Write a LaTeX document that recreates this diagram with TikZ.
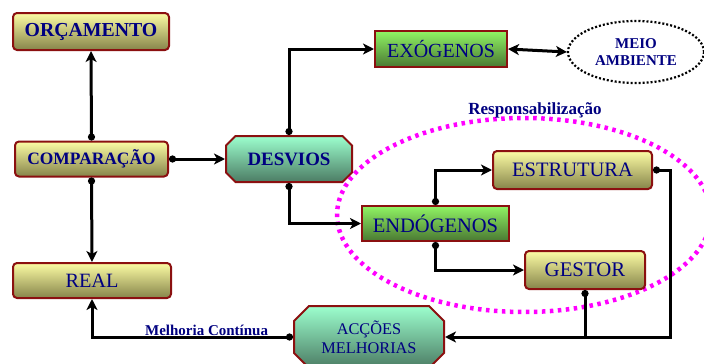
\documentclass[tikz,border=0pt]{standalone}
\usepackage{fontspec}
\setmainfont{Liberation Serif}
\newfontfamily\boxfont{Liberation Serif}
\usetikzlibrary{arrows.meta,shapes.misc,shapes.geometric}
\definecolor{navytxt}{HTML}{000080}
\definecolor{boxred}{HTML}{8B1010}
\definecolor{ytop}{HTML}{FCFCA4}
\definecolor{ybot}{HTML}{86844A}
\definecolor{gtop}{HTML}{90F464}
\definecolor{gbot}{HTML}{4A7832}
\definecolor{otop}{HTML}{9CFFCE}
\definecolor{obot}{HTML}{4C7C64}
\definecolor{zonecol}{HTML}{FF00FF}

\begin{document}
\begin{tikzpicture}[x=1pt,y=-1pt,
	box/.style={draw=boxred,line width=2pt,text=navytxt,inner sep=0pt,align=center},
	ybox/.style={box,rounded corners=4pt,top color=ytop,bottom color=ybot},
	gbox/.style={box,top color=gtop,bottom color=gbot},
	obox/.style={box,chamfered rectangle,chamfered rectangle xsep=12pt,top color=otop,bottom color=obot},
	link/.style={line width=3pt,{Circle[length=7pt]}-{Stealth[length=11pt,width=11pt,inset=3pt]}},
	fb/.style={font=\boxfont\fontsize{#1}{#1}\selectfont\bfseries},
	fr/.style={font=\boxfont\fontsize{#1}{#1}\selectfont}]
\useasboundingbox (0,0) rectangle (704,364);

% zona de responsabilizacao
\node[draw=zonecol,line width=4.5pt,dash pattern=on 3.5pt off 4.5pt,ellipse,
	minimum width=374pt,minimum height=194pt] (zona) at (524,215) {};
\node[text=navytxt,fb=17] (resp) at (535,110) {Responsabilização};

% caixas
\node[ybox,fb=19.8,minimum width=156pt,minimum height=37pt] (orc) at (91,31.5) {ORÇAMENTO};
\node[ybox,fb=17.4,minimum width=153pt,minimum height=35pt] (comp) at (91.5,159) {COMPARAÇÃO};
\node[ybox,fr=20.3,minimum width=158pt,minimum height=35pt] (real) at (92,280.5) {REAL};
\node[obox,fb=18.9,minimum width=126pt,minimum height=46pt] (desv) at (289,159) {DESVIOS};
\node[gbox,fr=20,minimum width=132pt,minimum height=36pt] (exo) at (441,49) {EXÓGENOS};
\node[draw,ellipse,dash pattern=on 2pt off 2pt,line width=2.2pt,text=navytxt,fb=15,align=center,
	minimum width=136pt,minimum height=62pt,inner sep=0pt] (meio) at (636,52) {MEIO\\[2pt]AMBIENTE};
\node[ybox,fr=20.5,minimum width=159pt,minimum height=38pt] (estr) at (572.5,170) {ESTRUTURA};
\node[gbox,fr=20.5,minimum width=147pt,minimum height=35pt] (endo) at (435.5,223.5) {ENDÓGENOS};
\node[ybox,fr=20.8,minimum width=120pt,minimum height=38pt] (gest) at (585,270) {GESTOR};
\node[obox,fr=16.3,minimum width=150pt,minimum height=62pt] (acc) at (369,337) {ACÇÕES\\[3pt]MELHORIAS};
\coordinate (volta) at (670,337);

% ligacoes
\draw[link] (comp.north) -- (orc.south);
\draw[link] (comp.south) -- (real.north);
\draw[link] (comp.east) -- (desv.west);
\draw[link] (desv.north) |- (exo.west);
\draw[link] (desv.south) |- (endo.west);
\draw[line width=3pt,{Stealth[length=11pt,width=11pt,inset=3pt]}-{Stealth[length=11pt,width=11pt,inset=3pt]}] (exo.east) -- (meio.west);
\draw[link] (endo.north) |- (estr.west);
\draw[link] (endo.south) |- (gest.west);
\draw[link] (estr.east) -| (volta) -- (acc.east);
\draw[line width=3pt,{Circle[length=7pt]}-] (gest.south) -- (gest.south |- volta);
\draw[link] (acc.west) -- node[pos=0.43,anchor=south,inner sep=0pt,text=navytxt,fb=15] {Melhoria Contínua}
	(acc.west -| real.south) -- (real.south);
\end{tikzpicture}
\end{document}
